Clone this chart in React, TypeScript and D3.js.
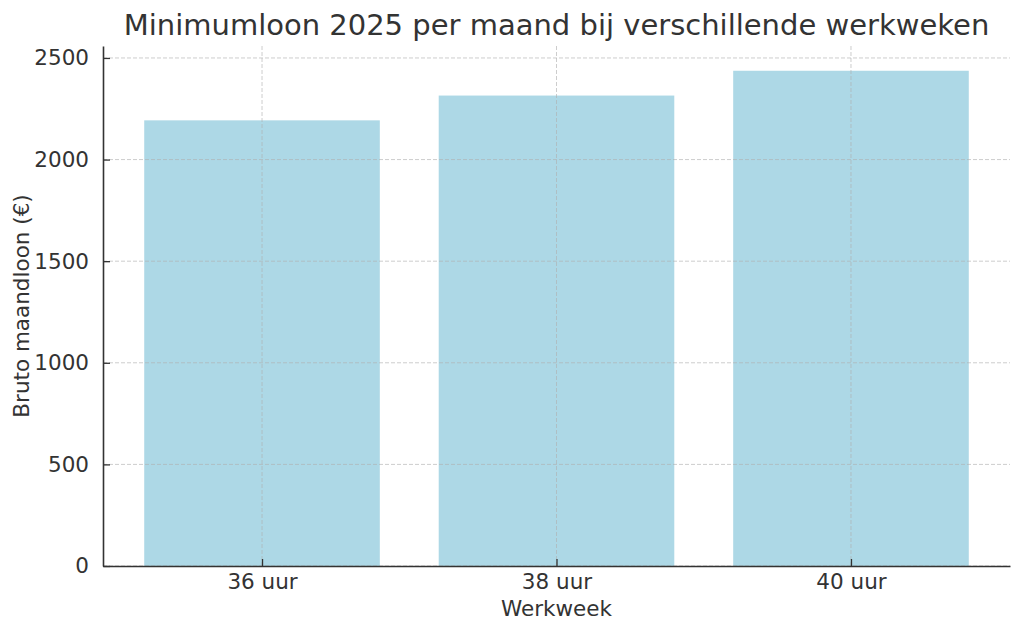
import React, { useEffect, useRef } from 'react';
import * as d3 from 'd3';

const categories = ['36 uur', '38 uur', '40 uur'];
const salaries = [2193, 2315, 2437];
const yTicks = [0, 500, 1000, 1500, 2000, 2500];

const title = 'Minimumloon 2025 per maand bij verschillende werkweken';
const xLabel = 'Werkweek';
const yLabel = 'Bruto maandloon (€)';

const WIDTH = 1024;
const HEIGHT = 635;
const TEXT = '#333333';

const App: React.FC = () => {
  const svgRef = useRef<SVGSVGElement>(null);

  useEffect(() => {
    document.body.style.margin = '0';
    const svg = d3.select(svgRef.current);
    svg.selectAll('*').remove();

    const margin = { top: 46, right: 14, bottom: 69, left: 103 };
    const left = margin.left;
    const right = WIDTH - margin.right;
    const top = margin.top;
    const bottom = HEIGHT - margin.bottom;

    // matplotlib-like x limits: bars at 0..n-1, width 0.8, 5% padding
    const n = categories.length;
    const span = n - 1 + 0.8;
    const x = d3
      .scaleLinear()
      .domain([-0.4 - span * 0.05, n - 1 + 0.4 + span * 0.05])
      .range([left, right]);

    const yMax = (d3.max(salaries) as number) * 1.05;
    const y = d3.scaleLinear().domain([0, yMax]).range([bottom, top]);

    const font = 'DejaVu Sans, sans-serif';

    // bars
    svg
      .append('g')
      .selectAll('rect')
      .data(salaries)
      .join('rect')
      .attr('x', (_, i) => x(i - 0.4))
      .attr('width', x(0.4) - x(-0.4))
      .attr('y', (d) => y(d))
      .attr('height', (d) => y(0) - y(d))
      .attr('fill', '#add8e6');

    // grid on top of bars
    const grid = svg
      .append('g')
      .attr('stroke', '#b0b0b0')
      .attr('stroke-opacity', 0.7)
      .attr('stroke-width', 0.9)
      .attr('stroke-dasharray', '4,2');

    grid
      .selectAll('line.h')
      .data(yTicks)
      .join('line')
      .attr('class', 'h')
      .attr('x1', left)
      .attr('x2', right)
      .attr('y1', (d) => y(d))
      .attr('y2', (d) => y(d));

    grid
      .selectAll('line.v')
      .data(categories)
      .join('line')
      .attr('class', 'v')
      .attr('x1', (_, i) => x(i))
      .attr('x2', (_, i) => x(i))
      .attr('y1', top)
      .attr('y2', bottom);

    // y axis
    const yAxis = svg
      .append('g')
      .attr('transform', `translate(${left},0)`)
      .call(
        d3
          .axisLeft(y)
          .tickValues(yTicks)
          .tickFormat(d3.format('d'))
          .tickSizeInner(-7)
          .tickSizeOuter(0)
          .tickPadding(14)
      );
    yAxis.select('.domain').attr('stroke', TEXT).attr('stroke-width', 1.6);
    yAxis.selectAll('.tick line').attr('stroke', TEXT).attr('stroke-width', 1.3);
    yAxis
      .selectAll('.tick text')
      .attr('fill', TEXT)
      .style('font-family', font)
      .style('font-size', '21.5px');

    // x axis
    const xAxis = svg
      .append('g')
      .attr('transform', `translate(0,${bottom})`)
      .call(
        d3
          .axisBottom(x)
          .tickValues(d3.range(n))
          .tickFormat((d) => categories[d as number])
          .tickSizeInner(-7)
          .tickSizeOuter(0)
          .tickPadding(8)
      );
    xAxis.select('.domain').attr('stroke', TEXT).attr('stroke-width', 1.6);
    xAxis.selectAll('.tick line').attr('stroke', TEXT).attr('stroke-width', 1.3);
    xAxis
      .selectAll('.tick text')
      .attr('fill', TEXT)
      .style('font-family', font)
      .style('font-size', '21.5px');

    // title and labels
    svg
      .append('text')
      .attr('x', (left + right) / 2)
      .attr('y', 35)
      .attr('text-anchor', 'middle')
      .attr('fill', TEXT)
      .style('font-family', font)
      .style('font-size', '29px')
      .text(title);

    svg
      .append('text')
      .attr('x', (left + right) / 2)
      .attr('y', 616)
      .attr('text-anchor', 'middle')
      .attr('fill', TEXT)
      .style('font-family', font)
      .style('font-size', '21.5px')
      .text(xLabel);

    svg
      .append('text')
      .attr('transform', `translate(29,${(top + bottom) / 2}) rotate(-90)`)
      .attr('text-anchor', 'middle')
      .attr('fill', TEXT)
      .style('font-family', font)
      .style('font-size', '21.5px')
      .text(yLabel);
  }, []);

  return <svg ref={svgRef} width={WIDTH} height={HEIGHT} style={{ display: 'block', background: '#fff' }} />;
};

export default App;
